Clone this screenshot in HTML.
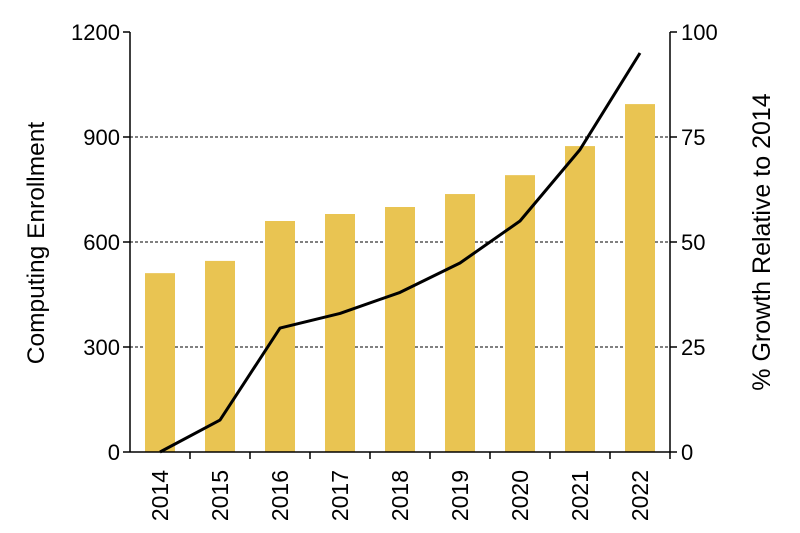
<!DOCTYPE html>
<html><head><meta charset="utf-8"><style>
html,body{margin:0;padding:0;background:#fff;}
svg{display:block;font-family:"Liberation Sans",Arial,sans-serif;}
</style></head><body>
<svg id="chart" width="800" height="533" viewBox="0 0 800 533">
<g id="grid"></g>
<g id="bars"></g>
<g id="axes"></g>
<g id="line"></g>
<text transform="translate(44,243) rotate(-90)" text-anchor="middle" font-size="24.5" fill="#000">Computing Enrollment</text>
<text transform="translate(770,242) rotate(-90)" text-anchor="middle" font-size="25" fill="#000">% Growth Relative to 2014</text>
</svg>
<script>
const categories=["2014","2015","2016","2017","2018","2019","2020","2021","2022"];
const enrollment=[511,546,660,680,700,737,791,874,994];
const growth=[0,7.6,29.5,33,38,45,55,72,95];
const leftTicks=[0,300,600,900,1200];
const rightTicks=[0,25,50,75,100];
const NS="http://www.w3.org/2000/svg";
const X0=130,X1=670,Y0=452,Y1=32;
const band=(X1-X0)/categories.length;
const xc=i=>X0+band*(i+0.5);
const yL=v=>Y0-(v/1200)*(Y0-Y1);
const yR=v=>Y0-(v/100)*(Y0-Y1);
function mk(t,a,p){const e=document.createElementNS(NS,t);for(const k in a)e.setAttribute(k,a[k]);p.appendChild(e);return e;}
const grid=document.getElementById('grid'),bars=document.getElementById('bars'),axes=document.getElementById('axes'),line=document.getElementById('line');
leftTicks.forEach((t,i)=>{
  if(t>0&&t<1200){const g=mk('line',{x1:X0,x2:X1,y1:yL(t),y2:yL(t),stroke:'#000','stroke-width':1,'stroke-dasharray':'3,2'},grid);
  
  }
  const tk=mk('line',{x1:X0-7,x2:X0,y1:yL(t),y2:yL(t),stroke:'#000','stroke-width':1.5},axes);
  
  
  const lb=mk('text',{x:X0-10,y:yL(t)+8,'text-anchor':'end','font-size':22},axes);lb.textContent=t;
  
  
});
rightTicks.forEach(t=>{
  const tk=mk('line',{x1:X1,x2:X1+7,y1:yR(t),y2:yR(t),stroke:'#000','stroke-width':1.5},axes);
  
  
  const lb=mk('text',{x:X1+11,y:yR(t)+8,'text-anchor':'start','font-size':22},axes);lb.textContent=t;
  
  
});
categories.forEach((c,i)=>{
  const b=mk('rect',{x:xc(i)-15,y:yL(enrollment[i]),width:30,height:Y0-yL(enrollment[i]),fill:'#E9C452'},bars);
  
  
  const tk=mk('line',{x1:X0+band*(i+1),x2:X0+band*(i+1),y1:Y0,y2:Y0+7,stroke:'#000','stroke-width':1.5},axes);
  
  
  const lb=mk('text',{transform:`translate(${xc(i)+8},${Y0+18}) rotate(-90)`,'text-anchor':'end','font-size':23},axes);lb.textContent=c;
  
  
});
const al=mk('line',{x1:X0,x2:X0,y1:Y1,y2:Y0,stroke:'#000','stroke-width':1.5},axes);


const ar=mk('line',{x1:X1,x2:X1,y1:Y1,y2:Y0,stroke:'#000','stroke-width':1.5},axes);


const ab=mk('line',{x1:X0,x2:X1,y1:Y0,y2:Y0,stroke:'#000','stroke-width':1.5},axes);


const pts=growth.map((v,i)=>xc(i)+','+yR(v)).join(' ');
const pl=mk('polyline',{points:pts,fill:'none',stroke:'#000','stroke-width':3,'stroke-linejoin':'round'},line);


</script>
</body></html>
